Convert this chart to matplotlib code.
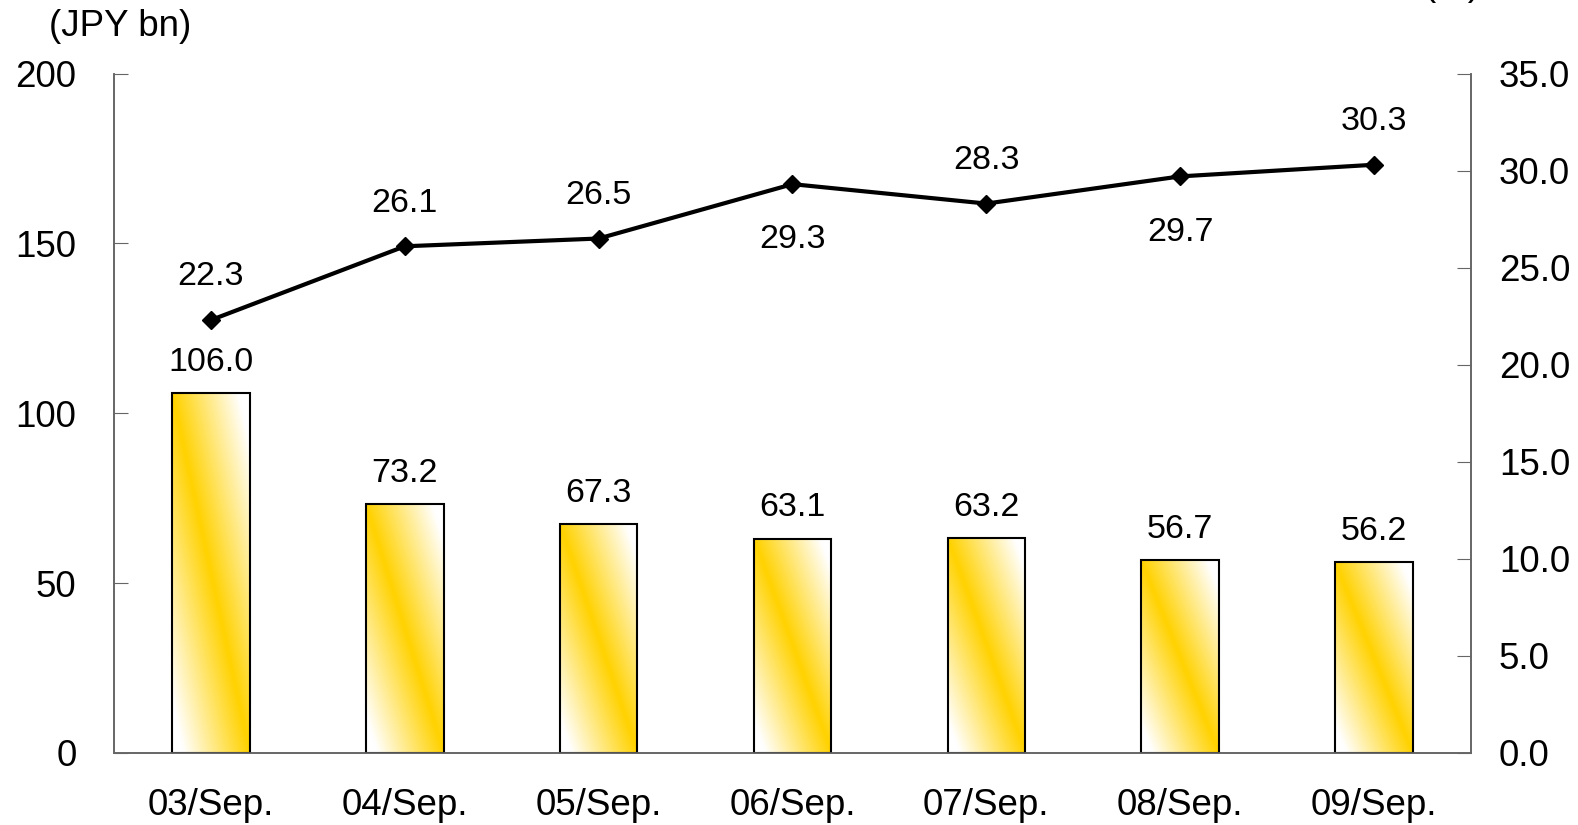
import matplotlib.pyplot as plt
import numpy as np
from matplotlib.colors import LinearSegmentedColormap

plt.rcParams["font.family"] = ["Liberation Sans", "DejaVu Sans"]

categories = ["03/Sep.", "04/Sep.", "05/Sep.", "06/Sep.", "07/Sep.", "08/Sep.", "09/Sep."]
amounts = [106.0, 73.2, 67.3, 63.1, 63.2, 56.7, 56.2]  # JPY bn, left axis
ratios = [22.3, 26.1, 26.5, 29.3, 28.3, 29.7, 30.3]  # %, right axis
ratio_label_below = [False, False, False, True, False, True, False]

FONT = 24.5
TICK_FONT = 26.5
W, H = 1578, 825

fig = plt.figure(figsize=(W / 100, H / 100), dpi=100)
ax = fig.add_axes([114 / W, 1 - 753 / H, (1471 - 114) / W, (753 - 73.5) / H])
ax2 = ax.twinx()

# yellow band along the top-left -> bottom-right diagonal, white at the other corners
cmap = LinearSegmentedColormap.from_list(
    "band", [(0, "#ffffff"), (0.07, "#ffffff"), (0.5, "#ffd200"), (0.93, "#ffffff"), (1, "#ffffff")])
n = 200
gx, gy = np.meshgrid(np.linspace(0, 1, n), np.linspace(1, 0, n))
grad = (gx + gy) / 2

x = np.arange(len(categories))
bars = ax.bar(x, amounts, width=0.4, facecolor="none", edgecolor="black",
              linewidth=1.5, zorder=3)
for rect, val in zip(bars, amounts):
    x0, w = rect.get_x(), rect.get_width()
    im = ax.imshow(grad, cmap=cmap, vmin=0, vmax=1, aspect="auto",
                   extent=(x0, x0 + w, 0, val), zorder=2, interpolation="bilinear")
    im.set_clip_path(rect)
    ax.annotate(f"{val:.1f}", (rect.get_x() + w / 2, val), xytext=(0, 11),
                textcoords="offset points", ha="center", va="bottom", fontsize=FONT)

ax2.plot(x, ratios, color="black", lw=3, marker="D", markersize=9, zorder=4)
for xi, r, below in zip(x, ratios, ratio_label_below):
    if below:
        ax2.annotate(f"{r:.1f}", (xi, r), xytext=(0, -29), textcoords="offset points",
                     ha="center", va="top", fontsize=FONT)
    else:
        ax2.annotate(f"{r:.1f}", (xi, r), xytext=(0, 20), textcoords="offset points",
                     ha="center", va="bottom", fontsize=FONT)

ax.set_xlim(-0.5, len(categories) - 0.5)
ax.set_ylim(0, 200)
ax2.set_ylim(0, 35)
ax.set_yticks([0, 50, 100, 150, 200])
ax2.set_yticks(np.arange(0, 36, 5))
ax2.set_yticklabels([f"{v:.1f}" for v in np.arange(0, 36, 5)])
ax.set_xticks(x)
ax.set_xticklabels(categories)

ax.tick_params(axis="y", direction="in", length=10, pad=27, labelsize=TICK_FONT, color="#666666")
ax2.tick_params(axis="y", direction="in", length=10, pad=20, labelsize=TICK_FONT, color="#666666")
ax.tick_params(axis="x", length=0, pad=25, labelsize=TICK_FONT)

for a in (ax, ax2):
    a.spines["top"].set_visible(False)
    for s in ("left", "right", "bottom"):
        a.spines[s].set_color("#666666")
        a.spines[s].set_linewidth(1.2)

fig.text(120 / W, 1 - 27 / H, "(JPY bn)", ha="center", va="center", fontsize=TICK_FONT)
fig.text(1452 / W, 1 + 5 / H, "(%)", ha="center", va="baseline", fontsize=TICK_FONT)

fig.savefig("out.png", dpi=100)
